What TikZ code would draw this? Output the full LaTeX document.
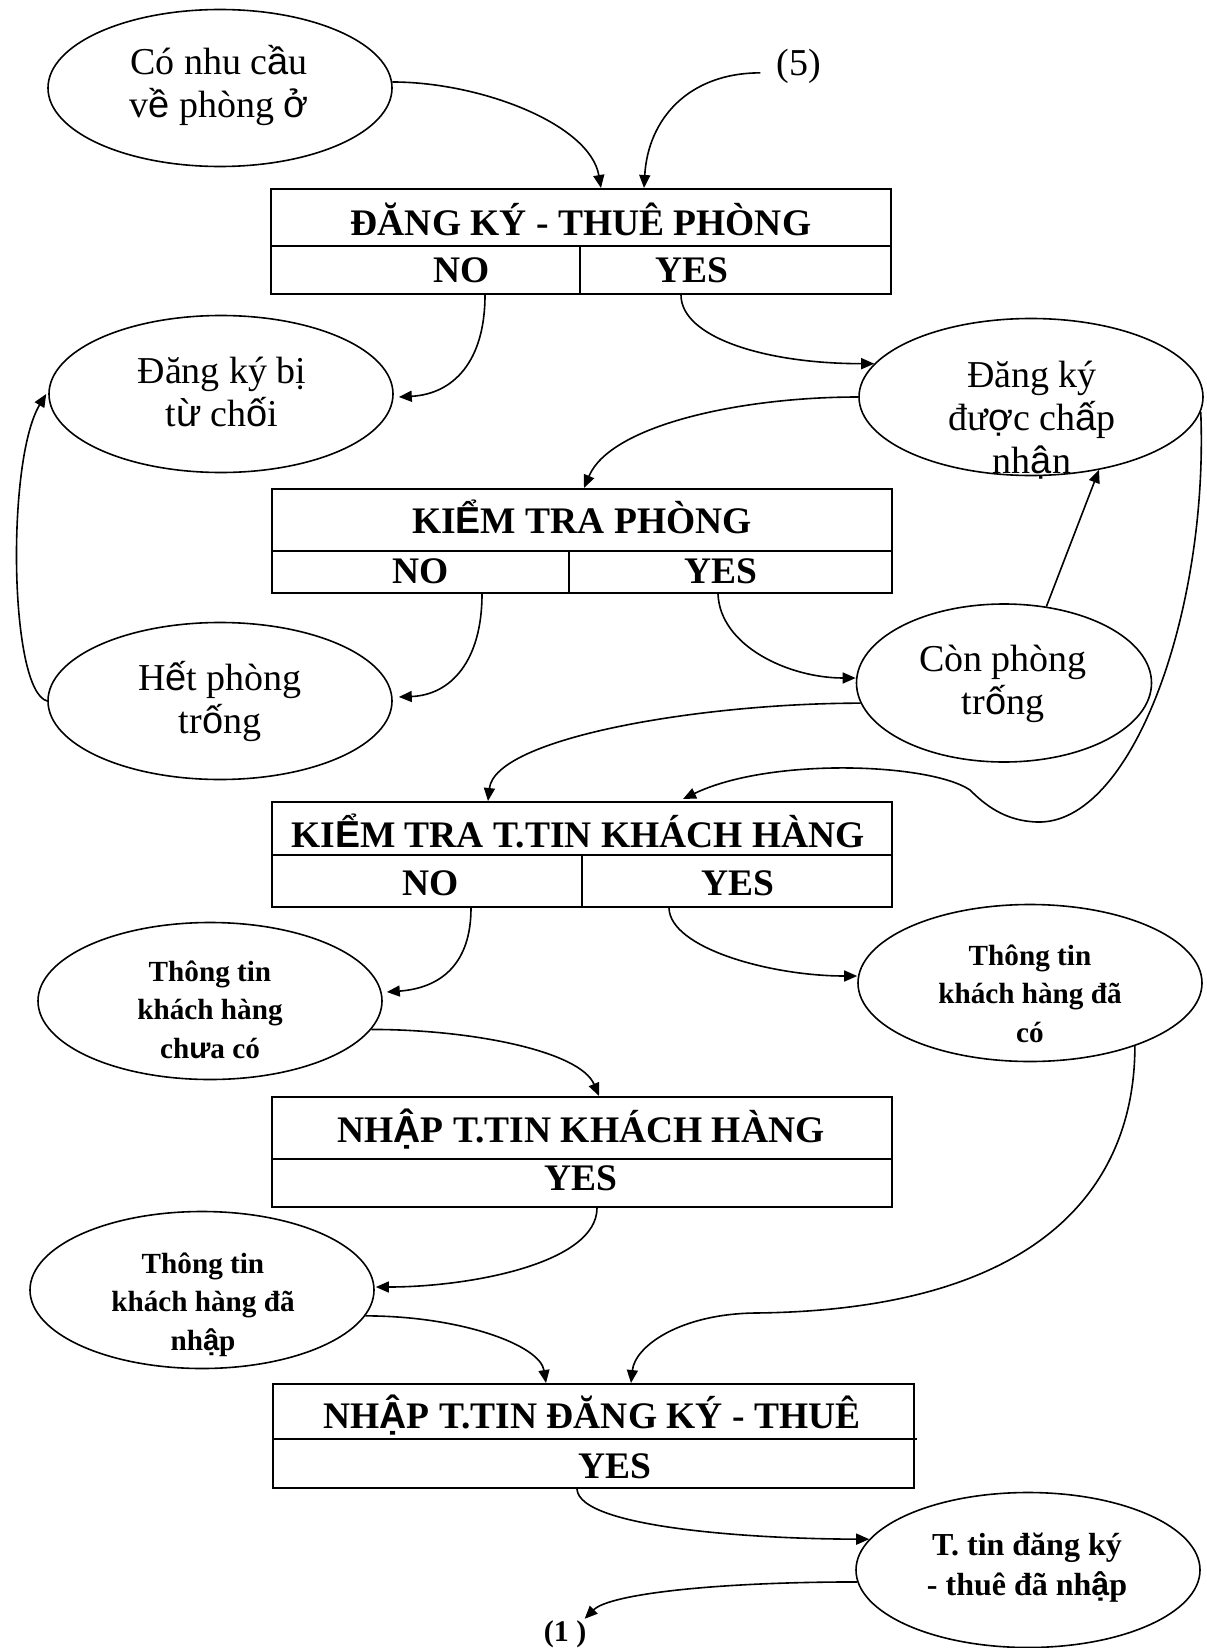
\documentclass[tikz,border=0pt]{standalone}
\usepackage{fontspec}
\setmainfont{Liberation Serif}
\newfontfamily\fbsans{Liberation Sans}
\newcommand\sv[1]{{\fbsans #1}}
\usetikzlibrary{shapes.geometric,arrows.meta,calc}
\tikzset{
  ellnode/.style={draw, ellipse, line width=0.8pt, inner sep=0pt, minimum width=172pt, minimum height=78.5pt},
  boxnode/.style={draw, line width=1pt, inner sep=0pt, minimum width=310pt, minimum height=52.5pt},
  divline/.style={line width=1pt},
  boxtext/.style={font=\fontsize{18.75}{22}\selectfont\bfseries, inner sep=0pt, anchor=base},
  plaintext/.style={font=\fontsize{19}{21.5}\selectfont, align=center, inner sep=0pt, anchor=base},
  smallbold/.style={font=\fontsize{14.6}{19.25}\selectfont\bfseries, align=center, inner sep=0pt, anchor=base},
  midbold/.style={font=\fontsize{16}{20}\selectfont\bfseries, align=center, inner sep=0pt, anchor=base},
  conn/.style={line width=0.8pt, -{Triangle[length=6.5pt,width=5.5pt]}},
}
\begin{document}
\begin{tikzpicture}[x=0.5pt,y=-0.5pt]
\useasboundingbox (0,0) rectangle (1206,1648);

% ---------- ellipses ----------
\node[ellnode] (A) at (220,88) {};
\node[ellnode] (B) at (221,394) {};
\node[ellnode] (C) at (1031,397) {};
\node[ellnode] (H) at (220,701) {};
\node[ellnode, minimum width=147.5pt, minimum height=79pt] (K) at (1004,683) {};
\node[ellnode] (E) at (210,1001) {};
\node[ellnode] (D) at (1030,983) {};
\node[ellnode] (F) at (202,1290) {};
\node[ellnode, minimum height=77.5pt] (G) at (1028,1570) {};

% ---------- ellipse texts (anchor = baseline of last line) ----------
\node[plaintext] (tA) at (219,118) {Có nhu c\sv{ầ}u\\v\sv{ề} phòng \sv{ở}};
\node[plaintext] (tB) at (222,426) {Đăng ký bị\\t\sv{ừ} ch\sv{ố}i};
\node[plaintext] (tC) at (1032,473) {Đăng ký\\đư\sv{ợ}c ch\sv{ấ}p\\nh\sv{ậ}n};
\node[plaintext] (tH) at (220,733) {H\sv{ế}t phòng\\tr\sv{ố}ng};
\node[plaintext] (tK) at (1003,714) {Còn phòng\\tr\sv{ố}ng};
\node[smallbold] (tE) at (210,1058) {Thông tin\\khách hàng\\ch\sv{ư}a có};
\node[smallbold] (tD) at (1030,1042) {Thông tin\\khách hàng đã\\có};
\node[smallbold] (tF) at (203,1350) {Thông tin\\khách hàng đã\\nh\sv{ậ}p};
\node[midbold] (tG) at (1027,1595) {T. tin đăng ký\\- thuê đã nh\sv{ậ}p};

\node[plaintext] (five) at (799,76) {(5)};
\node[font=\fontsize{15}{18}\selectfont\bfseries, inner sep=0pt, anchor=base] (one) at (565,1641) {(1 )};

% ---------- boxes ----------
\node[boxnode] (b1) at (581,241.5) {};
\draw[divline] (271,246) -- (891,246) (580,246) -- (580,294);
\node[boxtext] (b1t) at (581,235) {ĐĂNG KÝ - THUÊ PHÒNG};
\node[boxtext] (b1n) at (462,283) {NO};
\node[boxtext] (b1y) at (692,283) {YES};

\node[boxnode, minimum height=52pt] (b2) at (582,541) {};
\draw[divline] (272,551) -- (892,551) (569,551) -- (569,593);
\node[boxtext] (b2t) at (582,533) {KI\sv{Ể}M TRA PHÒNG};
\node[boxtext] (b2n) at (421,583) {NO};
\node[boxtext] (b2y) at (721,583) {YES};

\node[boxnode] (b3) at (582,854.5) {};
\draw[divline] (272,855) -- (892,855) (582,855) -- (582,907);
\node[boxtext] (b3t) at (578,847) {KI\sv{Ể}M TRA T.TIN KHÁCH HÀNG};
\node[boxtext] (b3n) at (431,895) {NO};
\node[boxtext] (b3y) at (738,895) {YES};

\node[boxnode, minimum height=55pt] (b4) at (582,1152) {};
\draw[divline] (272,1159) -- (892,1159);
\node[boxtext] (b4t) at (581,1142) {NH\sv{Ậ}P T.TIN KHÁCH HÀNG};
\node[boxtext] (b4y) at (581,1190) {YES};

\node[boxnode, minimum width=320.5pt, minimum height=52pt] (b5) at (593.5,1436) {};
\draw[divline] (273,1439) -- (917,1439);
\node[boxtext] (b5t) at (592,1428) {NH\sv{Ậ}P T.TIN ĐĂNG KÝ - THUÊ};
\node[boxtext] (b5y) at (615,1478) {YES};

% ---------- waypoints ----------
\coordinate (lp1) at (1037,822);
\coordinate (lp2) at (970,790);
\coordinate (lp3) at (755,1313);

% ---------- connectors ----------
\draw[conn] (A.2) .. controls +(88,0) and +(-11,-64) .. ($(b1.north)+(20,0)$);
\draw[conn] ([xshift=-8pt,yshift=-3pt]five.west) .. controls +(-72,0) and +(4,-69) .. ($(b1.north)+(63,0)$);
\draw[conn] ($(b1.south)+(-96,0)$) .. controls +(0,66) and +(55,-3) .. ($(B.east)+(5,3)$);
\draw[conn] ($(b1.south)+(100,0)$) .. controls +(0,42) and +(-110,0) .. (C.168);
\draw[conn] (C.west) .. controls +(-120,0) and +(26,-62) .. ($(b2.north)+(2,0)$);
\draw[conn] ($(b2.south)+(-100,0)$) .. controls +(0,67) and +(52,-2) .. ($(H.east)+(6,-4)$);
\draw[conn] (H.west) .. controls +(-38,-10) and +(-40,66) .. ($(B.west)+(-2,0)$);
\draw[conn] ($(b2.south)+(136,0)$) .. controls +(2,52) and +(-67,0) .. ($(K.west)+(0,-5)$);
\draw[conn] (K.61) -- (C.-47);
\draw[conn] (K.188) .. controls +(-160,0) and +(7,-63) .. ($(b3.north)+(-94,0)$);
\draw[conn] (C.-5) .. controls +(8,200) and +(95,3) .. (lp1)
  .. controls +(-32,-1) and +(15,15) .. (lp2)
  .. controls +(-40,-27) and +(87,-42) .. ($(b3.north)+(101,-2)$);
\draw[conn] ($(b3.south)+(-111,0)$) .. controls +(0,55) and +(55,-4) .. ($(E.east)+(4,-9)$);
\draw[conn] ($(b3.south)+(87,0)$) .. controls +(1,40) and +(-87,0) .. ($(D.west)+(0,-7)$);
\draw[conn] (E.-10) .. controls +(100,0) and +(-19,-45) .. ($(b4.north)+(17,0)$);
\draw[conn] ($(b4.south)+(15,0)$) .. controls +(0,55) and +(95,0) .. ($(F.east)+(1,-3)$);
\draw[conn] (F.-9) .. controls +(95,0) and +(-6,-38) .. ($(b5.north)+(-47.5,0)$);
\draw[conn] (D.-31) .. controls +(0,133) and +(295,-3) .. (lp3)
  .. controls +(-75,1) and +(4,-37) .. ($(b5.north)+(37.5,0)$);
\draw[conn] ($(b5.south)+(-16.5,0)$) .. controls +(2,40) and +(-105,0) .. (G.169);
\draw[conn] (G.184) .. controls +(-140,0) and +(25,-25) .. ($(one.north east)+(-2,-1)$);
\end{tikzpicture}
\end{document}
